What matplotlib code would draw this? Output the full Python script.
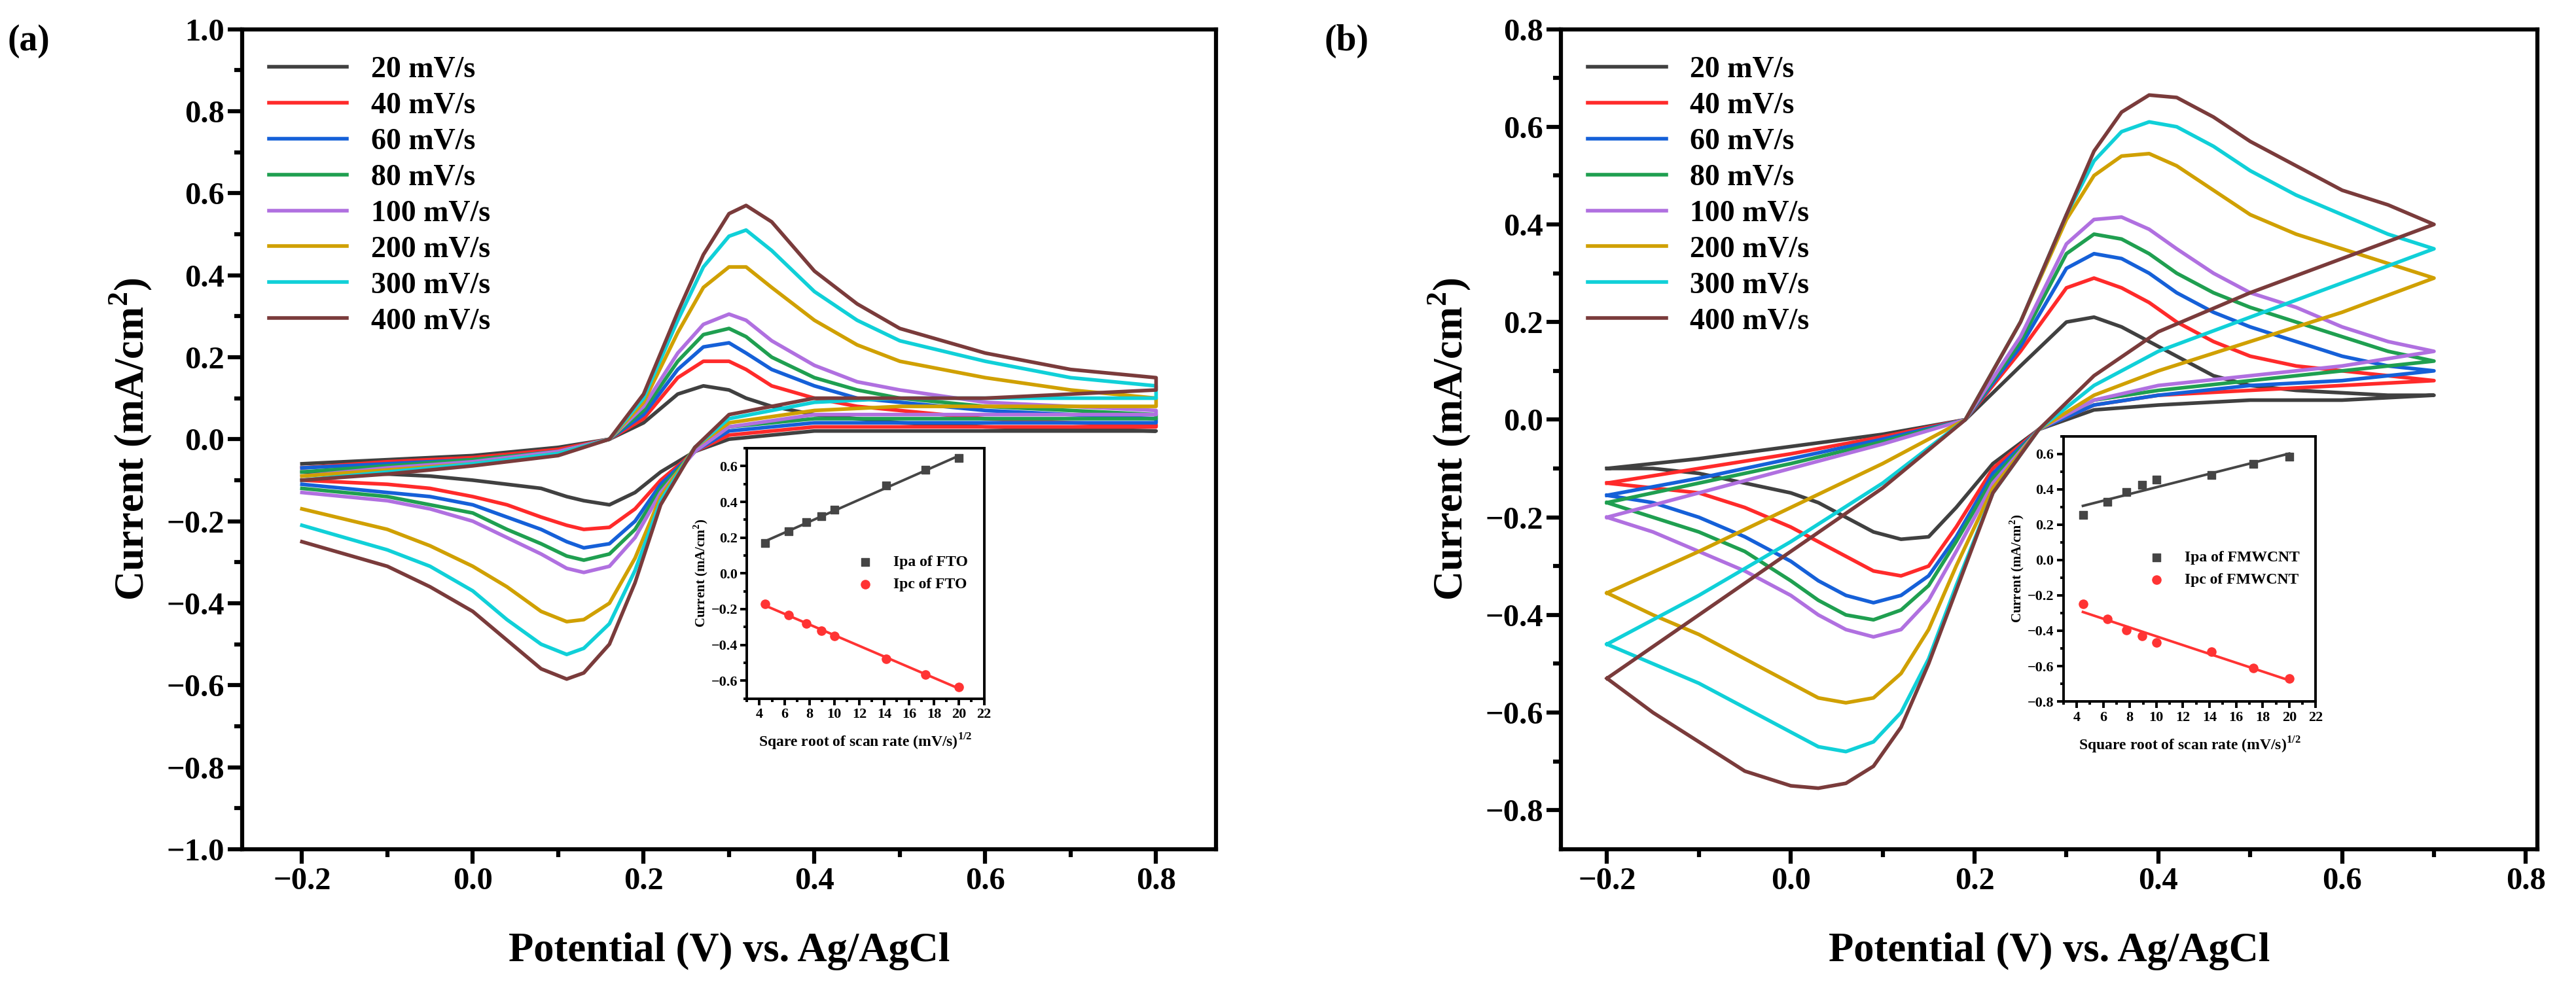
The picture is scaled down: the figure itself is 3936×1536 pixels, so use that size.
import numpy as np
import matplotlib
matplotlib.use("Agg")
import matplotlib.pyplot as plt
from matplotlib.ticker import MultipleLocator, AutoMinorLocator

plt.rcParams["font.family"] = ["Liberation Serif", "DejaVu Serif"]
plt.rcParams["font.weight"] = "bold"
plt.rcParams["mathtext.fontset"] = "custom"
plt.rcParams["mathtext.rm"] = "Liberation Serif:bold"

rates = ["20 mV/s", "40 mV/s", "60 mV/s", "80 mV/s", "100 mV/s", "200 mV/s", "300 mV/s", "400 mV/s"]
colors = ["#404040", "#ff2a2a", "#1560d8", "#1f9f50", "#b070e0", "#d0a000", "#10d0d8", "#7a3b3b"]
sqrt_rate = [4.47, 6.32, 7.75, 8.94, 10.0, 14.14, 17.32, 20.0]

# ---- panel (a): FTO ----
a_up_E = [-0.2, -0.1, 0.0, 0.1, 0.16, 0.2, 0.24, 0.27, 0.3, 0.32, 0.35, 0.4, 0.45, 0.5, 0.6, 0.7, 0.8]
a_lo_E = [0.8, 0.7, 0.6, 0.5, 0.4, 0.3, 0.26, 0.22, 0.19, 0.16, 0.13, 0.11, 0.08, 0.04, 0.0, -0.05, -0.1, -0.2]
a_up = [
    [-0.06, -0.05, -0.04, -0.02, 0.0, 0.04, 0.11, 0.13, 0.12, 0.10, 0.08, 0.06, 0.05, 0.04, 0.03, 0.025, 0.02],
    [-0.07, -0.055, -0.045, -0.025, 0.0, 0.05, 0.15, 0.19, 0.19, 0.17, 0.13, 0.1, 0.08, 0.07, 0.05, 0.04, 0.035],
    [-0.07, -0.06, -0.05, -0.03, 0.0, 0.06, 0.17, 0.225, 0.235, 0.21, 0.17, 0.13, 0.1, 0.09, 0.07, 0.06, 0.05],
    [-0.08, -0.065, -0.05, -0.03, 0.0, 0.07, 0.19, 0.255, 0.27, 0.25, 0.2, 0.15, 0.12, 0.1, 0.08, 0.07, 0.06],
    [-0.09, -0.07, -0.055, -0.03, 0.0, 0.08, 0.21, 0.28, 0.305, 0.29, 0.24, 0.18, 0.14, 0.12, 0.09, 0.08, 0.07],
    [-0.09, -0.075, -0.06, -0.035, 0.0, 0.09, 0.26, 0.37, 0.42, 0.42, 0.37, 0.29, 0.23, 0.19, 0.15, 0.12, 0.1],
    [-0.1, -0.08, -0.06, -0.035, 0.0, 0.1, 0.29, 0.42, 0.495, 0.51, 0.46, 0.36, 0.29, 0.24, 0.19, 0.15, 0.13],
    [-0.1, -0.085, -0.065, -0.04, 0.0, 0.11, 0.31, 0.45, 0.55, 0.57, 0.53, 0.41, 0.33, 0.27, 0.21, 0.17, 0.15],
]
a_lo = [
    [0.02, 0.02, 0.02, 0.02, 0.02, 0.0, -0.03, -0.08, -0.13, -0.16, -0.15, -0.14, -0.12, -0.11, -0.1, -0.09, -0.085, -0.08],
    [0.03, 0.03, 0.03, 0.03, 0.03, 0.01, -0.03, -0.1, -0.17, -0.215, -0.22, -0.21, -0.19, -0.16, -0.14, -0.12, -0.11, -0.1],
    [0.04, 0.04, 0.04, 0.04, 0.04, 0.02, -0.03, -0.11, -0.2, -0.255, -0.265, -0.25, -0.22, -0.19, -0.16, -0.14, -0.13, -0.11],
    [0.05, 0.05, 0.05, 0.05, 0.05, 0.03, -0.03, -0.12, -0.22, -0.28, -0.295, -0.285, -0.255, -0.22, -0.18, -0.16, -0.14, -0.12],
    [0.06, 0.06, 0.06, 0.06, 0.06, 0.03, -0.03, -0.13, -0.24, -0.31, -0.325, -0.315, -0.28, -0.24, -0.2, -0.17, -0.15, -0.13],
    [0.08, 0.08, 0.08, 0.08, 0.07, 0.04, -0.02, -0.14, -0.29, -0.4, -0.44, -0.445, -0.42, -0.36, -0.31, -0.26, -0.22, -0.17],
    [0.1, 0.1, 0.1, 0.1, 0.09, 0.05, -0.02, -0.15, -0.32, -0.45, -0.51, -0.525, -0.5, -0.44, -0.37, -0.31, -0.27, -0.21],
    [0.12, 0.11, 0.1, 0.1, 0.1, 0.06, -0.02, -0.16, -0.35, -0.5, -0.57, -0.585, -0.56, -0.49, -0.42, -0.36, -0.31, -0.25],
]
a_ipa = [0.17, 0.235, 0.285, 0.32, 0.355, 0.49, 0.58, 0.645]
a_ipc = [-0.17, -0.235, -0.28, -0.32, -0.35, -0.48, -0.565, -0.635]

# ---- panel (b): FMWCNT ----
b_up_E = [-0.2, -0.1, 0.0, 0.1, 0.19, 0.25, 0.3, 0.33, 0.36, 0.39, 0.42, 0.46, 0.5, 0.55, 0.6, 0.65, 0.7]
b_lo_E = [0.7, 0.6, 0.5, 0.4, 0.33, 0.27, 0.22, 0.18, 0.15, 0.12, 0.09, 0.06, 0.03, 0.0, -0.05, -0.1, -0.15, -0.2]
b_up = [
    [-0.1, -0.08, -0.055, -0.03, 0.0, 0.11, 0.2, 0.21, 0.19, 0.16, 0.13, 0.09, 0.07, 0.06, 0.055, 0.05, 0.05],
    [-0.13, -0.1, -0.07, -0.035, 0.0, 0.14, 0.27, 0.29, 0.27, 0.24, 0.2, 0.16, 0.13, 0.11, 0.1, 0.09, 0.08],
    [-0.155, -0.12, -0.08, -0.04, 0.0, 0.15, 0.31, 0.34, 0.33, 0.3, 0.26, 0.22, 0.19, 0.16, 0.13, 0.11, 0.1],
    [-0.17, -0.13, -0.09, -0.045, 0.0, 0.16, 0.34, 0.38, 0.37, 0.34, 0.3, 0.26, 0.23, 0.2, 0.17, 0.14, 0.12],
    [-0.2, -0.15, -0.1, -0.05, 0.0, 0.17, 0.36, 0.41, 0.415, 0.39, 0.35, 0.3, 0.26, 0.23, 0.19, 0.16, 0.14],
    [-0.355, -0.27, -0.18, -0.09, 0.0, 0.2, 0.41, 0.5, 0.54, 0.545, 0.52, 0.47, 0.42, 0.38, 0.35, 0.32, 0.29],
    [-0.46, -0.36, -0.25, -0.13, 0.0, 0.2, 0.42, 0.53, 0.59, 0.61, 0.6, 0.56, 0.51, 0.46, 0.42, 0.38, 0.35],
    [-0.53, -0.4, -0.27, -0.14, 0.0, 0.2, 0.42, 0.55, 0.63, 0.665, 0.66, 0.62, 0.57, 0.52, 0.47, 0.44, 0.4],
]
b_lo = [
    [0.05, 0.04, 0.04, 0.03, 0.02, -0.02, -0.09, -0.18, -0.24, -0.245, -0.23, -0.2, -0.17, -0.15, -0.13, -0.11, -0.1, -0.1],
    [0.08, 0.07, 0.06, 0.05, 0.03, -0.02, -0.1, -0.22, -0.3, -0.32, -0.31, -0.28, -0.25, -0.22, -0.18, -0.15, -0.14, -0.13],
    [0.1, 0.08, 0.07, 0.05, 0.03, -0.02, -0.11, -0.24, -0.32, -0.36, -0.375, -0.36, -0.33, -0.29, -0.24, -0.2, -0.17, -0.155],
    [0.12, 0.1, 0.08, 0.06, 0.04, -0.02, -0.12, -0.25, -0.34, -0.39, -0.41, -0.4, -0.37, -0.33, -0.27, -0.23, -0.2, -0.17],
    [0.14, 0.11, 0.09, 0.07, 0.04, -0.02, -0.13, -0.27, -0.37, -0.43, -0.445, -0.43, -0.4, -0.36, -0.31, -0.27, -0.23, -0.2],
    [0.29, 0.22, 0.16, 0.1, 0.05, -0.02, -0.14, -0.3, -0.43, -0.52, -0.57, -0.58, -0.57, -0.54, -0.49, -0.44, -0.4, -0.355],
    [0.35, 0.28, 0.21, 0.14, 0.07, -0.02, -0.15, -0.34, -0.49, -0.6, -0.66, -0.68, -0.67, -0.64, -0.59, -0.54, -0.5, -0.46],
    [0.4, 0.33, 0.26, 0.18, 0.09, -0.02, -0.15, -0.35, -0.5, -0.63, -0.71, -0.745, -0.755, -0.75, -0.72, -0.66, -0.6, -0.53],
]
b_ipa = [0.255, 0.33, 0.385, 0.425, 0.455, 0.48, 0.545, 0.585]
b_ipc = [-0.25, -0.335, -0.395, -0.43, -0.465, -0.52, -0.61, -0.67]


def style_axis(ax, lw, tick_len, fs):
    for s in ax.spines.values():
        s.set_linewidth(lw)
    ax.xaxis.set_minor_locator(AutoMinorLocator(2))
    ax.yaxis.set_minor_locator(AutoMinorLocator(2))
    ax.tick_params(which="major", direction="out", length=tick_len, width=lw, labelsize=fs)
    ax.tick_params(which="minor", direction="out", length=tick_len * 0.55, width=lw)


def main_panel(rect, up_E, lo_E, ups, los, xlim, ylim, ystep):
    ax = fig.add_axes(rect)
    for i in range(len(rates)):
        ax.plot(up_E + lo_E, ups[i] + los[i], color=colors[i], lw=4, label=rates[i],
                solid_joinstyle="round")
    ax.set_xlim(*xlim)
    ax.set_ylim(*ylim)
    ax.xaxis.set_major_locator(MultipleLocator(0.2))
    ax.yaxis.set_major_locator(MultipleLocator(ystep))
    style_axis(ax, 4.5, 16, 35)
    ax.set_xlabel("Potential (V) vs. Ag/AgCl", fontsize=45, fontweight="bold", labelpad=40)
    ax.set_ylabel("Current (mA/cm$^2$)", fontsize=45, fontweight="bold", labelpad=14)
    ax.legend(loc="upper left", frameon=False, fontsize=33, handlelength=2.6,
              labelspacing=0.28, borderaxespad=0.5)
    return ax


def inset(rect, ipa, ipc, name, xlabel, ylim):
    ax = fig.add_axes(rect)
    x = np.array(sqrt_rate)
    ax.scatter(x, ipa, marker="s", s=80, color="#454545", label=f"Ipa of {name}", zorder=3)
    ax.scatter(x, ipc, marker="o", s=90, color="#ff3333", label=f"Ipc of {name}", zorder=3)
    for y, c in ((ipa, "#454545"), (ipc, "#ff3333")):
        k, b = np.polyfit(x, y, 1)
        ax.plot(x, k * x + b, color=c, lw=2.8)
    ax.set_xlim(3, 22)
    ax.set_ylim(*ylim)
    ax.xaxis.set_major_locator(MultipleLocator(2))
    ax.yaxis.set_major_locator(MultipleLocator(0.2))
    style_axis(ax, 2.8, 7, 16)
    ax.set_xlabel(xlabel, fontsize=17, fontweight="bold", labelpad=12)
    ax.set_ylabel("Current (mA/cm$^2$)", fontsize=15, fontweight="bold", labelpad=2)
    ax.legend(loc="center right", frameon=False, fontsize=17, handletextpad=0.8,
              bbox_to_anchor=(0.99, 0.5))
    return ax


fig = plt.figure(figsize=(39.36, 15.36), dpi=100)

main_panel([0.094, 0.155, 0.378, 0.816], a_up_E, a_lo_E, a_up, a_lo, (-0.27, 0.87), (-1.0, 1.0), 0.2)
main_panel([0.606, 0.155, 0.379, 0.816], b_up_E, b_lo_E, b_up, b_lo, (-0.25, 0.8125), (-0.88, 0.8), 0.2)

inset([0.290, 0.305, 0.092, 0.249], a_ipa, a_ipc, "FTO",
      "Sqare root of scan rate (mV/s)$^{1/2}$", (-0.7, 0.7))
inset([0.801, 0.302, 0.098, 0.264], b_ipa, b_ipc, "FMWCNT",
      "Square root of scan rate (mV/s)$^{1/2}$", (-0.8, 0.7))

fig.text(0.003, 0.95, "(a)", fontsize=40, fontweight="bold")
fig.text(0.514, 0.95, "(b)", fontsize=40, fontweight="bold")

fig.savefig("out.png", dpi=100)
